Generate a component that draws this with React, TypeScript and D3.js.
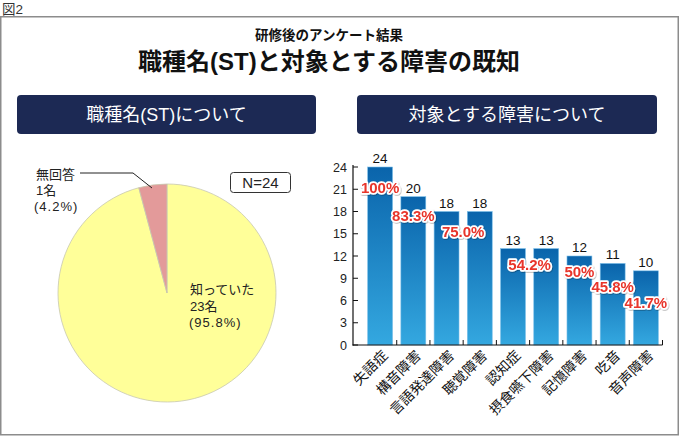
import React from "react";
import * as d3 from "d3";

const pieLabels = ["知っていた", "無回答"];
const pieValues = [23, 1];
const piePercents = ["95.8%", "4.2%"];
const pieColors = ["#ffff99", "#e39a9a"];

const categories = ["失語症", "構音障害", "言語発達障害", "聴覚障害", "認知症", "摂食嚥下障害", "記憶障害", "吃音", "音声障害"];
const barValues = [24, 20, 18, 18, 13, 13, 12, 11, 10];
const yTicks = [0, 3, 6, 9, 12, 15, 18, 21, 24];

// percent annotations: text, first category index, last category index, extra drop below bar top
const pctTexts = ["100%", "83.3%", "75.0%", "54.2%", "50%", "45.8%", "41.7%"];
const pctFrom = [0, 1, 2, 4, 6, 7, 8];
const pctTo = [0, 1, 3, 5, 6, 7, 8];
const pctDrop = [20, 19, 20, 16, 15, 23, 32];

const FONT = "'Liberation Sans', 'Noto Sans CJK JP', sans-serif";
const CJK = "'Noto Sans CJK JP', 'Liberation Sans', sans-serif";

export default function App() {
  const W = 680, H = 437;
  const pie = d3.pie<number>().sort(null).value((d) => d);
  const arcs = pie(pieValues);
  const arc = d3.arc<d3.PieArcDatum<number>>().innerRadius(0).outerRadius(109);
  const cx = 167, cy = 293;

  const x = d3.scaleBand<string>().domain(categories).range([363.5, 662.5]).paddingInner(0.25).paddingOuter(0.125);
  const y = d3.scaleLinear().domain([0, 24]).range([345, 167]);
  const step = x.step();
  const boundaries = categories.map((c) => (x(c) as number) - (step * 0.25) / 2 + step);

  const center = (i: number) => (x(categories[i]) as number) + x.bandwidth() / 2;

  return (
    <svg width={W} height={H} style={{ position: "absolute", left: 0, top: 0, fontFamily: FONT }}>
      <defs>
        <linearGradient id="barGrad" x1="0" y1="0" x2="0" y2="1">
          <stop offset="0%" stopColor="#0a64ab" />
          <stop offset="100%" stopColor="#34a8e0" />
        </linearGradient>
        <filter id="halo" x="-20%" y="-30%" width="140%" height="160%">
          <feDropShadow dx="0.6" dy="0.8" stdDeviation="0.6" floodColor="#000" floodOpacity="0.35" />
        </filter>
      </defs>
      <rect x={0} y={0} width={W} height={H} fill="#fff" />
      <text x={2} y={14} fontSize={13.5} fill="#333">図2</text>
      <rect x={0.75} y={16.75} width={677.5} height={418} fill="#fff" stroke="#8c8c8c" strokeWidth={1.5} />

      <text x={329} y={40} textAnchor="middle" fontSize={13.5} fontWeight="bold" fill="#111" style={{ fontFamily: CJK }}>研修後のアンケート結果</text>
      <text x={329} y={70} textAnchor="middle" fontSize={24} fontWeight="bold" fill="#111">職種名(ST)と対象とする障害の既知</text>

      <rect x={17} y={95} width={299} height={39} rx={4} fill="#1c2954" />
      <text x={166.5} y={121} textAnchor="middle" fontSize={18} fill="#fff">職種名(ST)について</text>
      <rect x={357} y={95} width={300} height={39} rx={4} fill="#1c2954" />
      <text x={507} y={121} textAnchor="middle" fontSize={18} fill="#fff">対象とする障害について</text>

      {/* Pie */}
      <g transform={`translate(${cx},${cy})`}>
        {arcs.map((a, i) => (
          <path key={i} d={arc(a) as string} fill={pieColors[i]} stroke="#c8c8b0" strokeWidth={0.8} />
        ))}
      </g>
      <polyline points="80,173 133,173 152,188" fill="none" stroke="#222" strokeWidth={1} />
      <g fontSize={13} fill="#222">
        <text x={36} y={179}>{pieLabels[1]}</text>
        <text x={36} y={195}>{pieValues[1]}名</text>
        <text x={34} y={211} letterSpacing={1}>({piePercents[1]})</text>
        <text x={190} y={294}>{pieLabels[0]}</text>
        <text x={190} y={311}>{pieValues[0]}名</text>
        <text x={189} y={327} letterSpacing={1}>({piePercents[0]})</text>
      </g>
      <rect x={230.5} y={172.5} width={60} height={20} rx={3} fill="#fff" stroke="#333" strokeWidth={1} />
      <text x={260.5} y={187.5} textAnchor="middle" fontSize={15} fill="#222">N={d3.sum(pieValues)}</text>

      {/* Bar chart */}
      {barValues.map((v, i) => (
        <rect key={i} x={x(categories[i])} y={y(v)} width={x.bandwidth()} height={y(0) - y(v)} fill="url(#barGrad)" stroke="#7cc0ea" strokeWidth={0.6} />
      ))}
      <line x1={353} x2={353} y1={165} y2={345.5} stroke="#111" strokeWidth={1.2} />
      <line x1={352.5} x2={662.5} y1={345} y2={345} stroke="#111" strokeWidth={1.2} />
      {yTicks.map((t) => (
        <g key={t}>
          <line x1={353} x2={358} y1={y(t)} y2={y(t)} stroke="#111" strokeWidth={1} />
          <text x={347} y={y(t) + 4.5} textAnchor="end" fontSize={12.5} fill="#222">{t}</text>
        </g>
      ))}
      {boundaries.map((b, i) => (
        <line key={i} x1={b} x2={b} y1={345} y2={340} stroke="#111" strokeWidth={1} />
      ))}
      {barValues.map((v, i) => (
        <text key={i} x={center(i)} y={y(v) - 4} textAnchor="middle" fontSize={13.5} fill="#111">{v}</text>
      ))}
      {categories.map((c, i) => (
        <text key={c} transform={`translate(${center(i) + 5},${353}) rotate(-45)`} textAnchor="end" dy="0.35em" fontSize={14} fill="#111" style={{ fontFamily: CJK }}>{c}</text>
      ))}
      {pctTexts.map((t, i) => {
        const cxp = (center(pctFrom[i]) + center(pctTo[i])) / 2;
        const cyp = y(barValues[pctFrom[i]]) + pctDrop[i];
        return (
          <g key={t} filter="url(#halo)">
            <text x={cxp} y={cyp + 5.5} textAnchor="middle" fontSize={15} fontWeight="bold" fill="#e8342a" stroke="#fff" strokeWidth={3.5} paintOrder="stroke" strokeLinejoin="round">{t}</text>
          </g>
        );
      })}
    </svg>
  );
}
